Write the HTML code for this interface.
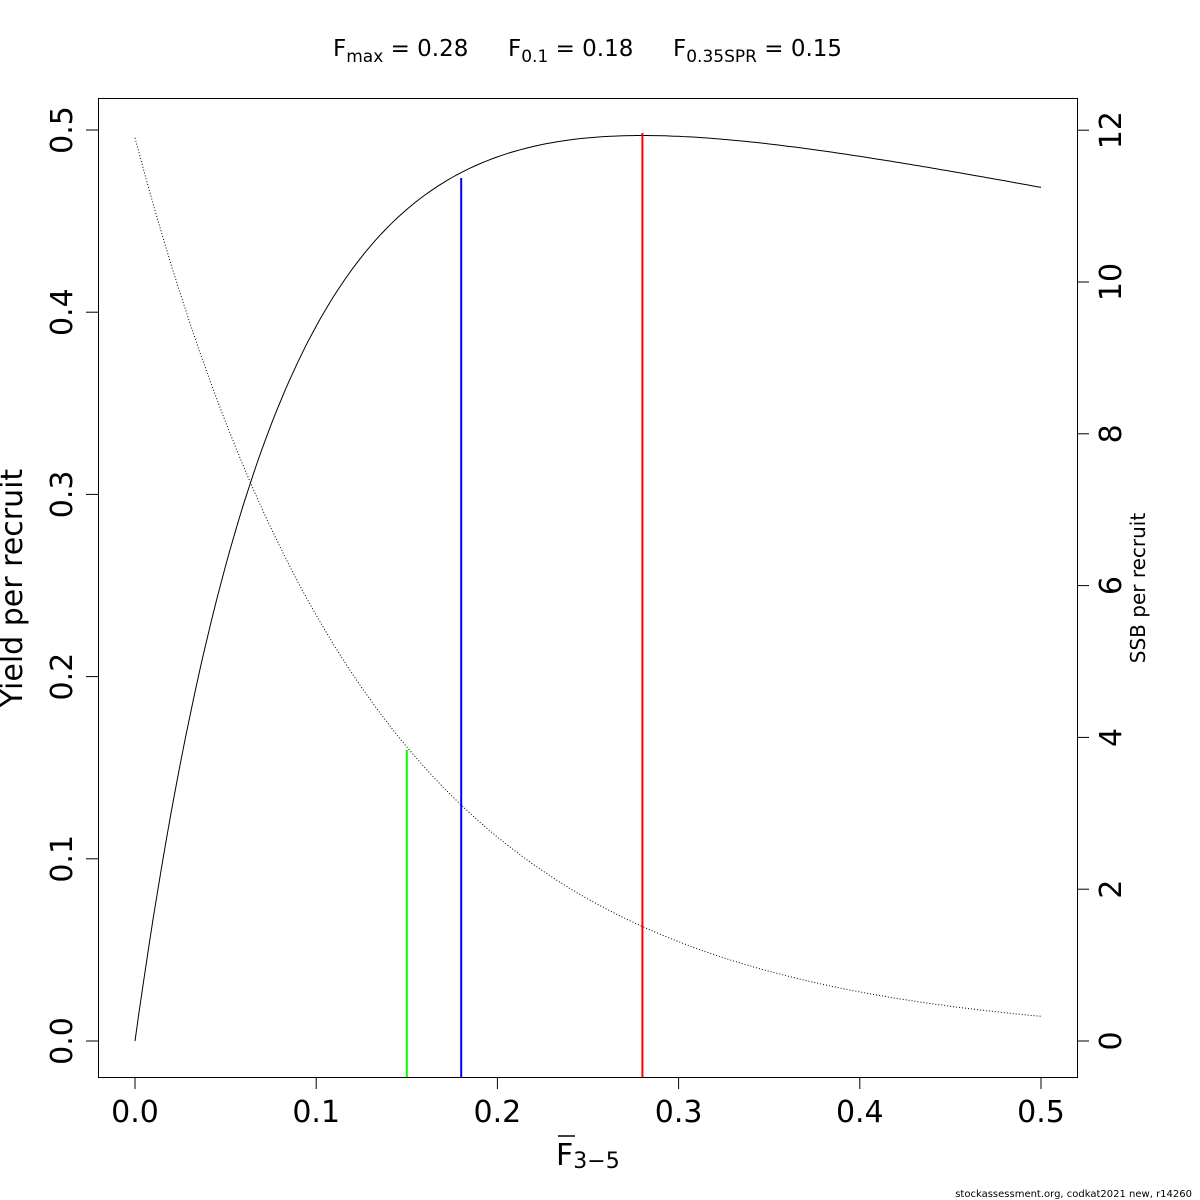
<!DOCTYPE html>
<html><head><meta charset="utf-8"><style>body{margin:0;background:#fff}svg{display:block}text{font-family:"DejaVu Sans","Liberation Sans",sans-serif}</style></head>
<body>
<svg id="s" width="1200" height="1200" xmlns="http://www.w3.org/2000/svg">
<rect x="0" y="0" width="1200" height="1200" fill="#fff"/>
<rect x="98.5" y="98.5" width="979" height="979" fill="none" stroke="#000" stroke-width="1"/>
<text x="333" y="56" font-size="23">F<tspan font-size="17" dy="6">max</tspan><tspan dy="-6"> = 0.28</tspan></text>
<text x="508" y="56" font-size="23">F<tspan font-size="17" dy="6">0.1</tspan><tspan dy="-6"> = 0.18</tspan></text>
<text x="673" y="56" font-size="23">F<tspan font-size="17" dy="6">0.35SPR</tspan><tspan dy="-6"> = 0.15</tspan></text>
<g id="ax" stroke="#000" stroke-width="1"></g>
<g id="lab" font-size="30"></g>
<text transform="translate(22,588) rotate(-90)" font-size="30" text-anchor="middle">Yield per recruit</text>
<text transform="translate(1145,588) rotate(-90)" font-size="20" text-anchor="middle">SSB per recruit</text>
<text x="556" y="1165" font-size="30">F<tspan font-size="22" dy="3">3−5</tspan></text>
<line x1="558" y1="1136" x2="575" y2="1136" stroke="#000" stroke-width="1.5"/>
<text x="1192" y="1197" font-size="10" text-anchor="end">stockassessment.org, codkat2021 new, r14260</text>
<path id="ssb" fill="none" stroke="#000" stroke-width="1" stroke-dasharray="1,2"/>
<path id="ypr" fill="none" stroke="#000" stroke-width="1"/>
<line x1="406.8" y1="1077" x2="406.8" y2="750" stroke="#00ff00" stroke-width="2"/>
<line x1="461.2" y1="1077" x2="461.2" y2="178" stroke="#0000ff" stroke-width="2"/>
<line x1="642.4" y1="1077" x2="642.4" y2="133" stroke="#ff0000" stroke-width="2"/>
</svg>
<script>
const X=f=>135+f*1812, YL=v=>1041-v*1822, YR=v=>1041-v*75.9;
let ax=document.getElementById('ax'),lab=document.getElementById('lab'),h='',t='';
for(let i=0;i<=5;i++){let x=X(i/10);h+=`<line x1="${x}" y1="1077" x2="${x}" y2="1089"/>`;t+=`<text x="${x}" y="1122" text-anchor="middle">${(i/10).toFixed(1)}</text>`;}
h+=`<line x1="${X(0)}" y1="1077.5" x2="${X(0.5)}" y2="1077.5"/>`;
for(let i=0;i<=5;i++){let y=YL(i/10);h+=`<line x1="86" y1="${y}" x2="98" y2="${y}"/>`;t+=`<text transform="translate(72,${y}) rotate(-90)" text-anchor="middle">${(i/10).toFixed(1)}</text>`;}
h+=`<line x1="98.5" y1="${YL(0)}" x2="98.5" y2="${YL(0.5)}"/>`;
for(let i=0;i<=12;i+=2){let y=YR(i);h+=`<line x1="1077" y1="${y}" x2="1089" y2="${y}"/>`;t+=`<text transform="translate(1121,${y}) rotate(-90)" text-anchor="middle">${i}</text>`;}
h+=`<line x1="1077.5" y1="${YR(0)}" x2="1077.5" y2="${YR(12)}"/>`;
ax.innerHTML=h;lab.innerHTML=t;
let d='';for(let f=0;f<=0.5001;f+=0.005){let v=11.9*Math.exp(-7.6*f+0.8*f*f);d+=(d?'L':'M')+X(f).toFixed(1)+','+YR(v).toFixed(1);}
document.getElementById('ssb').setAttribute('d',d);
const b=13,A=0.5659,c=0.1931;
let e='';for(let f=0;f<=0.5001;f+=0.0025){let v=A*(1-Math.exp(-b*f))-c*f;e+=(e?'L':'M')+X(f).toFixed(1)+','+YL(v).toFixed(1);}
document.getElementById('ypr').setAttribute('d',e);
</script>
</body></html>
